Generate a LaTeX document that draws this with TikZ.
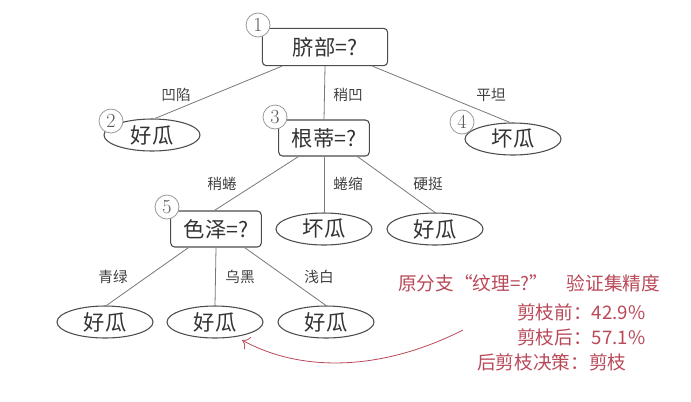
\documentclass[tikz,border=0pt]{standalone}
\usepackage{fontspec}
\newfontfamily\cjk{Noto Sans CJK SC}
\usepackage{tikz}
\usetikzlibrary{shapes.geometric,arrows.meta}
\definecolor{edgegray}{RGB}{120,120,120}
\definecolor{notered}{RGB}{185,72,88}

\tikzset{
  testbox/.style={draw=black!70, line width=0.8pt, rounded corners=3pt, fill=white,
    minimum width=68pt, minimum height=27pt, inner sep=0pt,
    font=\cjk\fontsize{16}{18}\selectfont, text=black!80},
  leaf/.style={ellipse, draw=black!70, line width=0.8pt, fill=white,
    minimum width=72pt, minimum height=24pt, inner sep=0pt,
    font=\cjk\fontsize{16}{18}\selectfont, text=black!80},
  num/.style={circle, draw=black!40, line width=0.6pt, fill=white,
    minimum size=18pt, inner sep=0pt, font=\fontsize{15}{15}\selectfont, text=black!65},
  branch/.style={font=\cjk\fontsize{11}{12}\selectfont, text=black!75, inner sep=0pt},
  note/.style={font=\cjk\fontsize{14}{16}\selectfont, text=notered, inner sep=0pt, anchor=west}
}

\begin{document}
\begin{tikzpicture}[x=0.75pt, y=-0.75pt]
\useasboundingbox (0,0) rectangle (691,401);
% tests and leaves
\node[testbox, minimum width=94pt, minimum height=28pt] (n1) at (325,47) {脐部=?};
\node[leaf] (n2) at (152,135) {好瓜};
\node[testbox] (n3) at (324,138) {根蒂=?};
\node[leaf] (n4) at (513,139) {坏瓜};
\node[testbox] (n5) at (216,229) {色泽=?};
\node[leaf] (n6) at (324,229) {坏瓜};
\node[leaf] (n7) at (435,229) {好瓜};
\node[leaf] (n8) at (105,322) {好瓜};
\node[leaf] (n9) at (215,322) {好瓜};
\node[leaf] (n10) at (326,322) {好瓜};
% branches
\draw[edgegray, line width=0.6pt] (n1.204) -- (n2.80);
\draw[edgegray, line width=0.6pt] (n1.south) -- (n3.north);
\draw[edgegray, line width=0.6pt] (n1.-22) -- (n4.100);
\draw[edgegray, line width=0.6pt] (n3.216) -- (n5.95);
\draw[edgegray, line width=0.6pt] (n3.south) -- (n6.north);
\draw[edgegray, line width=0.6pt] (n3.-29) -- (n7.north);
\draw[edgegray, line width=0.6pt] (n5.214) -- (n8.85);
\draw[edgegray, line width=0.6pt] (n5.south) -- (n9.north);
\draw[edgegray, line width=0.6pt] (n5.-33) -- (n10.north);
% branch labels
\node[branch] (b12) at (176,95) {凹陷};
\node[branch] (b13) at (348,95) {稍凹};
\node[branch] (b14) at (491,95) {平坦};
\node[branch] (b35) at (222,184) {稍蜷};
\node[branch] (b36) at (348,184) {蜷缩};
\node[branch] (b37) at (428,184) {硬挺};
\node[branch] (b58) at (113,277) {青绿};
\node[branch] (b59) at (240,277) {乌黑};
\node[branch] (b510) at (319,277) {浅白};
% node numbers
\node[num] (c1) at (258,25) {1};
\node[num] (c2) at (111,121) {2};
\node[num] (c3) at (275,117) {3};
\node[num] (c4) at (462,122) {4};
\node[num] (c5) at (167,207) {5};
% pruning note
\node[note] (t1) at (398,283) {原分支“纹理=?”\hspace{1em}验证集精度};
\node[note] (t2) at (517,312) {剪枝前：42.9\%};
\node[note] (t3) at (517,337) {剪枝后：57.1\%};
\node[note] (t4) at (477,362) {后剪枝决策：剪枝};
\coordinate (from) at (463,330);
\draw[notered, line width=0.6pt, -{To[length=5pt]}, shorten >=5pt]
  (from) .. controls (380,372) and (300,372) .. (n9.-35);
\end{tikzpicture}
\end{document}
